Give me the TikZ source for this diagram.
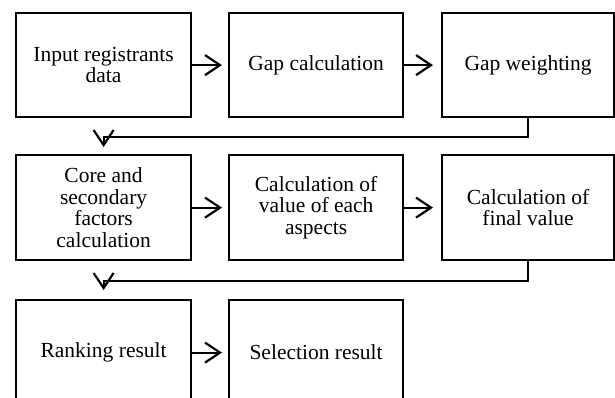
\documentclass[tikz,border=0pt]{standalone}
\usepackage{fontspec}
\setmainfont{Liberation Serif}
\usetikzlibrary{arrows.meta}
\begin{document}
\begin{tikzpicture}[x=1pt,y=-1pt,
  box/.style={draw, line width=2.2pt, minimum height=104pt, anchor=north west, align=center,
    font=\fontsize{21.5}{21.5}\selectfont, inner sep=0pt},
  flow/.style={line width=2.2pt, -{Straight Barb[length=15pt,width=20pt,line width=2.2pt]}}]
\useasboundingbox (0,0) rectangle (615,398);
\clip (0,0) rectangle (615,398);
% row 1
\node[box, minimum width=175pt] (b1) at (15,12) {Input registrants\\data};
\node[box, minimum width=174pt] (b2) at (228,12) {Gap calculation};
\node[box, minimum width=172pt] (b3) at (441,12) {Gap weighting};
% row 2
\node[box, minimum width=175pt, minimum height=105pt] (b4) at (15,154) {Core and\\secondary\\factors\\calculation};
\node[box, minimum width=174pt, minimum height=105pt] (b5) at (228,154) {Calculation of\\value of each\\aspects};
\node[box, minimum width=172pt, minimum height=105pt] (b6) at (441,154) {Calculation of\\final value};
% row 3
\node[box, minimum width=175pt, minimum height=105pt] (b7) at (15,299) {Ranking result};
\node[box, minimum width=174pt, minimum height=105pt] (b8) at (228,299) {Selection result};
% connectors
\draw[flow, shorten >=6pt] (b1.east) -- (b2.west);
\draw[flow, shorten >=8pt] (b2.east) -- (b3.west);
\draw[flow, shorten >=7pt] (b3.south) -- ++(0,19) -| (b4.north);
\draw[flow, shorten >=6pt] (b4.east) -- (b5.west);
\draw[flow, shorten >=8pt] (b5.east) -- (b6.west);
\draw[flow, shorten >=9pt] (b6.south) -- ++(0,20) -| (b7.north);
\draw[flow, shorten >=6pt] (b7.east) -- (b8.west);
\end{tikzpicture}
\end{document}
